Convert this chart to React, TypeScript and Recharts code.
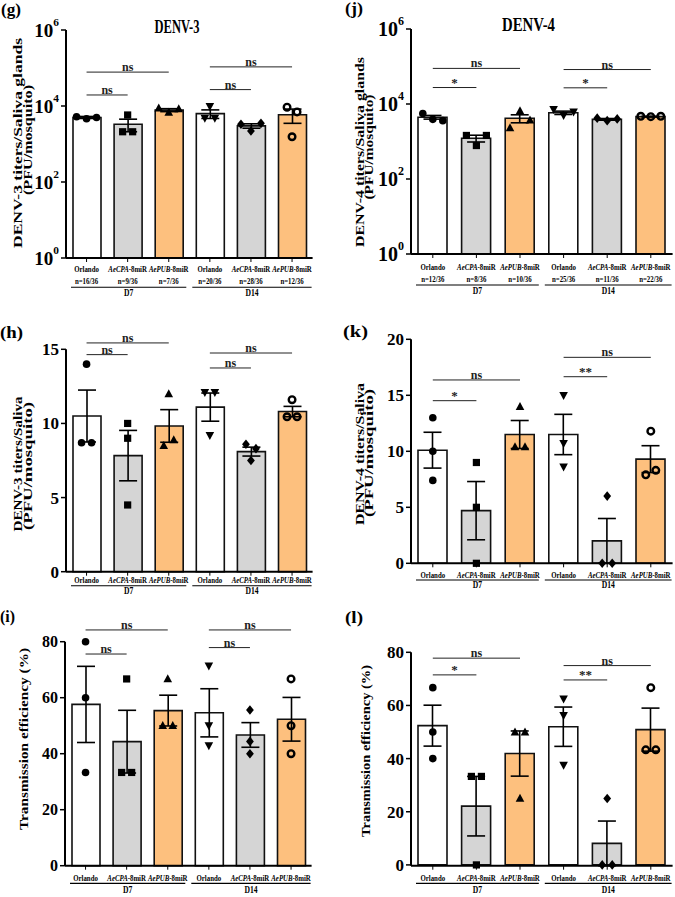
import React from 'react'
import { ComposedChart, Bar, Cell, ErrorBar, Scatter, XAxis, YAxis, ReferenceLine } from 'recharts'

const FONT = "'Liberation Serif', 'Times New Roman', Times, serif"

const categories = ['Orlando D7', 'AeCPA D7', 'AePUB D7', 'Orlando D14', 'AeCPA D14', 'AePUB D14']
const strains = ['Orlando', 'AeCPA', 'AePUB', 'Orlando', 'AeCPA', 'AePUB']
const days = ['D7', 'D14']
const barFills = ['#ffffff', '#d5d5d5', '#fdc07e', '#ffffff', '#d5d5d5', '#fdc07e']
const markers = ['circle', 'square', 'triangle', 'triangleDown', 'diamond', 'ring']

// (g) DENV-3 saliva glands
const gMean = [5000, 3300, 7800, 6300, 3000, 5900]
const gSem = [300, 1200, 700, 1600, 400, 2400]
const gPoints = [[5200, 4600, 5000], [2100, 5800, 2100], [8800, 6800, 8400], [9800, 4800, 4800], [3300, 2200, 3500], [9300, 1550, 7000]]
const gN = ['n=16/36', 'n=9/36', 'n=7/36', 'n=20/36', 'n=28/36', 'n=12/36']
const gSig = [
  { from: 0, to: 1, y: 19500, text: 'ns' },
  { from: 0, to: 2, y: 78000, text: 'ns' },
  { from: 3, to: 4, y: 27000, text: 'ns' },
  { from: 3, to: 5, y: 107000, text: 'ns' },
]

// (j) DENV-4 saliva glands
const jMean = [4450, 1220, 4150, 5850, 3900, 4600]
const jSem = [500, 250, 1000, 600, 200, 120]
const jPoints = [[5600, 3900, 3600], [1450, 780, 1450], [2300, 6600, 3700], [7200, 5000, 6200], [4200, 3600, 4000], [4700, 4600, 4700]]
const jN = ['n=12/36', 'n=8/36', 'n=10/36', 'n=25/36', 'n=11/36', 'n=22/36']
const jSig = [
  { from: 0, to: 1, y: 27500, text: '*' },
  { from: 0, to: 2, y: 89000, text: 'ns' },
  { from: 3, to: 4, y: 27000, text: '*' },
  { from: 3, to: 5, y: 83000, text: 'ns' },
]

// (h) DENV-3 saliva
const hMean = [10.5, 7.83, 9.83, 11.1, 8.1, 10.8]
const hSem = [1.75, 1.7, 1.1, 0.95, 0.3, 0.35]
const hPoints = [[8.7, 14, 8.7], [10, 9, 4.5], [8.5, 12, 8.9], [12.1, 9.2, 12.1], [7.5, 8.6, 8.3], [10.45, 11.6, 10.45]]
const hSig = [
  { from: 0, to: 1, y: 14.64, text: 'ns' },
  { from: 0, to: 2, y: 15.43, text: 'ns' },
  { from: 3, to: 4, y: 13.74, text: 'ns' },
  { from: 3, to: 5, y: 14.75, text: 'ns' },
]

// (k) DENV-4 saliva
const kMean = [10.1, 4.7, 11.5, 11.5, 2.0, 9.3]
const kSem = [1.6, 2.6, 1.25, 1.8, 2.0, 1.2]
const kPoints = [[13, 10, 7.4], [9, 5, 0], [10.4, 14, 10.4], [15, 10.7, 8.6], [0, 6, 0], [7.9, 11.8, 8.3]]
const kSig = [
  { from: 0, to: 1, y: 14.52, text: '*' },
  { from: 0, to: 2, y: 16.37, text: 'ns' },
  { from: 3, to: 4, y: 16.66, text: '**' },
  { from: 3, to: 5, y: 18.39, text: 'ns' },
]

// (i) DENV-3 transmission efficiency
const iMean = [57.6, 44.3, 55.4, 54.6, 46.7, 52.3]
const iSem = [13.6, 11.2, 5.5, 8.6, 4.4, 7.8]
const iPoints = [[80, 60, 33.3], [33.3, 66.7, 33.3], [50, 66.7, 50], [71.4, 50, 42.9], [40, 55.6, 44.4], [66.7, 50, 40]]
const iSig = [
  { from: 0, to: 1, y: 75.6, text: 'ns' },
  { from: 0, to: 2, y: 84.2, text: 'ns' },
  { from: 3, to: 4, y: 77.9, text: 'ns' },
  { from: 3, to: 5, y: 84.2, text: 'ns' },
]

// (l) DENV-4 transmission efficiency
const lMean = [52.4, 22.1, 41.9, 52, 8.1, 50.9]
const lSem = [7.7, 11.2, 8.5, 7.4, 8.4, 8.1]
const lPoints = [[66.7, 50, 40], [33.3, 0, 33.3], [50, 25, 50], [62.5, 56.3, 37.5], [0, 25, 0], [43.3, 66.7, 43.3]]
const lSig = [
  { from: 0, to: 1, y: 71.5, text: '*' },
  { from: 0, to: 2, y: 77.8, text: 'ns' },
  { from: 3, to: 4, y: 69.6, text: '**' },
  { from: 3, to: 5, y: 75, text: 'ns' },
]

function Marker({ type, x, y }: { type: string; x: number; y: number }) {
  if (type === 'circle') return <circle cx={x} cy={y} r={3.8} fill="#000" />
  if (type === 'square') return <rect x={x - 3.6} y={y - 3.6} width={7.2} height={7.2} fill="#000" />
  if (type === 'triangle')
    return <polygon points={`${x},${y - 4.6} ${x - 4.3},${y + 3.4} ${x + 4.3},${y + 3.4}`} fill="#000" />
  if (type === 'triangleDown')
    return <polygon points={`${x},${y + 4.6} ${x - 4.3},${y - 3.4} ${x + 4.3},${y - 3.4}`} fill="#000" />
  if (type === 'diamond')
    return <polygon points={`${x},${y - 4.8} ${x + 3.9},${y} ${x},${y + 4.8} ${x - 3.9},${y}`} fill="#000" />
  return <circle cx={x} cy={y} r={3.3} fill="none" stroke="#000" strokeWidth={2.4} />
}

// points that sit close together get spread sideways, like in the figure
function makeShape(k: number, toFrac: (v: number) => number) {
  return (props: any) => {
    const { cx, cy, payload } = props
    if (cx == null || cy == null) return <g />
    const vals = [payload.p0, payload.p1, payload.p2].map(toFrac)
    const near = (a: number, b: number) => Math.abs(vals[a] - vals[b]) < 0.05
    const group = [k]
    for (let pass = 0; pass < 2; pass++)
      for (let j = 0; j < 3; j++) if (!group.includes(j) && group.some((g) => near(g, j))) group.push(j)
    group.sort()
    const spread = group.length === 1 ? [0] : group.length === 2 ? [-5, 5] : [-10, 0, 10]
    return <Marker type={payload.marker} x={cx + spread[group.indexOf(k)]} y={cy} />
  }
}

function makeXTick(cfg: any, bw: number, n?: string[]) {
  return (props: any) => {
    const { x, y, payload } = props
    const i = categories.indexOf(payload.value)
    const axisY = y - 6
    const strain = strains[i]
    const first = i < 3
    const lx1 = first ? x - 1.5 * bw + 5 : x - 1.5 * bw + 3
    const lx2 = first ? x + 1.5 * bw - 3 : x + 1.5 * bw - 1
    return (
      <g>
        <text
          transform={`translate(${x},${axisY + cfg.nameDy}) scale(0.76,1)`}
          textAnchor="middle"
          fontFamily={FONT}
          fontWeight="bold"
          fontSize={9}
          fill="#000"
        >
          {strain === 'Orlando' ? strain : (<><tspan fontStyle="italic">{strain}</tspan>-8miR</>)}
        </text>
        {n && (
          <text
            transform={`translate(${x},${axisY + cfg.nDy}) scale(0.76,1)`}
            textAnchor="middle"
            fontFamily={FONT}
            fontWeight="bold"
            fontSize={9}
            fill="#000"
          >
            {n[i]}
          </text>
        )}
        {i % 3 === 1 && (
          <>
            <line x1={lx1} x2={lx2} y1={axisY + cfg.lineDy} y2={axisY + cfg.lineDy} stroke="#000" strokeWidth={1.1} />
            <text
              transform={`translate(${(lx1 + lx2) / 2},${axisY + cfg.dayDy}) scale(0.8,1)`}
              textAnchor="middle"
              fontFamily={FONT}
              fontWeight="bold"
              fontSize={9.5}
              fill="#000"
            >
              {days[Math.floor(i / 3)]}
            </text>
          </>
        )}
      </g>
    )
  }
}

function makeLogTick(fs: number) {
  return (props: any) => {
    const { x, y, payload } = props
    const e = Math.round(Math.log10(payload.value))
    return (
      <text x={x} y={y} textAnchor="end" dominantBaseline="central" fontFamily={FONT} fontWeight="bold" fontSize={fs} fill="#000">
        10
        <tspan dy={-fs * 0.42} fontSize={fs * 0.6}>{e}</tspan>
      </text>
    )
  }
}

function Panel(p: any) {
  const L = p.layout
  const data = categories.map((c, i) => ({
    cat: c,
    mean: p.mean[i],
    sem: p.sem[i],
    p0: p.points[i][0],
    p1: p.points[i][1],
    p2: p.points[i][2],
    marker: markers[i],
  }))
  const bw = (L.w - L.yWidth - L.margin.right) / categories.length
  const toFrac = p.log
    ? (v: number) => Math.log10(Math.max(v, 1)) / 6
    : (v: number) => v / p.domain[1]
  const XTick = makeXTick(L.x, bw, p.n)
  return (
    <div style={{ position: 'absolute', left: L.left, top: L.top, width: L.w, height: L.h }}>
      <ComposedChart width={L.w} height={L.h} data={data} margin={L.margin}>
        <XAxis
          dataKey="cat"
          type="category"
          interval={0}
          height={L.xHeight}
          tickSize={4}
          tickMargin={2}
          tick={XTick}
          axisLine={{ stroke: '#000', strokeWidth: 2 }}
          tickLine={{ stroke: '#000', strokeWidth: 1 }}
        />
        <YAxis
          type="number"
          scale={p.log ? 'log' : 'linear'}
          domain={p.domain}
          ticks={p.ticks}
          interval={0}
          width={L.yWidth}
          tickSize={5}
          tickMargin={2}
          axisLine={{ stroke: '#000', strokeWidth: 2 }}
          tickLine={{ stroke: '#000', strokeWidth: 1.5 }}
          tick={
            p.log
              ? makeLogTick(L.tickFont)
              : { fontFamily: FONT, fontSize: L.tickFont, fontWeight: 'bold', fill: '#000' }
          }
        />
        <Bar dataKey="mean" barSize={L.barSize} stroke="#111" strokeWidth={1.6} isAnimationActive={false}>
          {data.map((d, i) => (
            <Cell key={d.cat} fill={barFills[i]} />
          ))}
          <ErrorBar dataKey="sem" direction="y" width={9} stroke="#000" strokeWidth={1.6} />
        </Bar>
        {[0, 1, 2].map((k) => (
          <Scatter key={k} dataKey={`p${k}`} shape={makeShape(k, toFrac)} isAnimationActive={false} />
        ))}
        {p.sig.map((s: any, i: number) => (
          <ReferenceLine
            key={i}
            segment={[{ x: categories[s.from], y: s.y }, { x: categories[s.to], y: s.y }]}
            stroke="#222"
            strokeWidth={1}
            ifOverflow="visible"
            label={{
              value: s.text,
              position: 'top',
              offset: 1,
              fill: '#222',
              fontSize: s.text === 'ns' ? 12 : 13,
              fontWeight: 'bold',
              fontFamily: FONT,
            }}
          />
        ))}
      </ComposedChart>
      <svg width={L.w} height={L.h} style={{ position: 'absolute', left: 0, top: 0, pointerEvents: 'none' }}>
        <text
          x={L.letter.x}
          y={L.letter.y}
          fontFamily={FONT}
          fontWeight="bold"
          fontSize={17}
          textLength={L.letter.w}
          lengthAdjust="spacingAndGlyphs"
          fill="#000"
        >
          {p.letter}
        </text>
        {p.title && (
          <text
            x={L.title.cx}
            y={L.title.y}
            textAnchor="middle"
            fontFamily={FONT}
            fontWeight="bold"
            fontSize={19}
            textLength={L.title.w}
            lengthAdjust="spacingAndGlyphs"
            fill="#000"
          >
            {p.title}
          </text>
        )}
        {p.yLines.map((t: string, i: number) => (
          <text
            key={i}
            transform={`translate(${L.ylab[i].bx},${L.ylab[i].cy}) rotate(-90)`}
            textAnchor="middle"
            fontFamily={FONT}
            fontWeight="bold"
            fontSize={12.5}
            textLength={L.ylab[i].len}
            lengthAdjust="spacingAndGlyphs"
            fill="#000"
          >
            {t}
          </text>
        ))}
      </svg>
    </div>
  )
}

const layoutG = {
  left: 0, top: 0, w: 335, h: 300, yWidth: 66, xHeight: 40, barSize: 28, tickFont: 19,
  margin: { top: 30, right: 22.4, bottom: 2, left: 0 },
  x: { nameDy: 14, nDy: 26.3, lineDy: 29.3, dayDy: 37.7 },
  letter: { x: 1, y: 15, w: 20 },
  title: { cx: 177, y: 33, w: 45 },
  ylab: [{ bx: 21.5, cy: 143, len: 210 }, { bx: 32, cy: 140, len: 110 }],
}
const layoutJ = {
  left: 335, top: 0, w: 340, h: 300, yWidth: 76, xHeight: 44, barSize: 29, tickFont: 20,
  margin: { top: 29, right: 2.4, bottom: 2, left: 0 },
  x: { nameDy: 16, nDy: 27.7, lineDy: 31, dayDy: 40 },
  letter: { x: 10, y: 14, w: 18 },
  title: { cx: 193.5, y: 31, w: 53 },
  ylab: [{ bx: 28.5, cy: 152, len: 190 }, { bx: 38, cy: 147, len: 105 }],
}
const layoutH = {
  left: 0, top: 300, w: 335, h: 300, yWidth: 66, xHeight: 26, barSize: 28, tickFont: 17,
  margin: { top: 49.3, right: 22.4, bottom: 2.3, left: 0 },
  x: { nameDy: 11.3, lineDy: 14, dayDy: 22.3 },
  letter: { x: 0, y: 37.5, w: 23 },
  ylab: [{ bx: 21.5, cy: 164, len: 135 }, { bx: 32, cy: 166, len: 128 }],
}
const layoutK = {
  left: 335, top: 300, w: 340, h: 300, yWidth: 76, xHeight: 34, barSize: 29, tickFont: 17,
  margin: { top: 39.3, right: 2.4, bottom: 2.7, left: 0 },
  x: { nameDy: 14.7, lineDy: 16.7, dayDy: 25 },
  letter: { x: 8, y: 36.5, w: 25 },
  ylab: [{ bx: 28.5, cy: 154, len: 142 }, { bx: 38, cy: 153, len: 128 }],
}
const layoutI = {
  left: 0, top: 600, w: 335, h: 297, yWidth: 65, xHeight: 30, barSize: 28, tickFont: 16,
  margin: { top: 41.7, right: 23.4, bottom: 1.3, left: 0 },
  x: { nameDy: 15, lineDy: 17.7, dayDy: 27 },
  letter: { x: 0, y: 21.5, w: 15 },
  ylab: [{ bx: 28, cy: 139, len: 182 }],
}
const layoutL = {
  left: 335, top: 600, w: 340, h: 297, yWidth: 76, xHeight: 30, barSize: 29, tickFont: 17,
  margin: { top: 52.3, right: 2.4, bottom: 1.3, left: 0 },
  x: { nameDy: 15.3, lineDy: 17.7, dayDy: 27 },
  letter: { x: 10, y: 22.5, w: 18 },
  ylab: [{ bx: 35, cy: 151, len: 172 }],
}

export default function App() {
  return (
    <div style={{ position: 'absolute', left: 0, top: 0, width: 675, height: 897, background: '#fff', overflow: 'hidden' }}>
      <Panel
        layout={layoutG}
        letter="(g)"
        title="DENV-3"
        yLines={['DENV-3 titers/Saliva glands', '(PFU/mosquito)']}
        mean={gMean}
        sem={gSem}
        points={gPoints}
        n={gN}
        sig={gSig}
        log
        domain={[1, 1000000]}
        ticks={[1, 100, 10000, 1000000]}
      />
      <Panel
        layout={layoutJ}
        letter="(j)"
        title="DENV-4"
        yLines={['DENV-4 titers/Saliva glands', '(PFU/mosquito)']}
        mean={jMean}
        sem={jSem}
        points={jPoints}
        n={jN}
        sig={jSig}
        log
        domain={[1, 1000000]}
        ticks={[1, 100, 10000, 1000000]}
      />
      <Panel
        layout={layoutH}
        letter="(h)"
        yLines={['DENV-3 titers/Saliva', '(PFU/mosquito)']}
        mean={hMean}
        sem={hSem}
        points={hPoints}
        sig={hSig}
        domain={[0, 15]}
        ticks={[0, 5, 10, 15]}
      />
      <Panel
        layout={layoutK}
        letter="(k)"
        yLines={['DENV-4 titers/Saliva', '(PFU/mosquito)']}
        mean={kMean}
        sem={kSem}
        points={kPoints}
        sig={kSig}
        domain={[0, 20]}
        ticks={[0, 5, 10, 15, 20]}
      />
      <Panel
        layout={layoutI}
        letter="(i)"
        yLines={['Transmission  efficiency (%)']}
        mean={iMean}
        sem={iSem}
        points={iPoints}
        sig={iSig}
        domain={[0, 80]}
        ticks={[0, 20, 40, 60, 80]}
      />
      <Panel
        layout={layoutL}
        letter="(l)"
        yLines={['Transmission  efficiency (%)']}
        mean={lMean}
        sem={lSem}
        points={lPoints}
        sig={lSig}
        domain={[0, 80]}
        ticks={[0, 20, 40, 60, 80]}
      />
    </div>
  )
}
